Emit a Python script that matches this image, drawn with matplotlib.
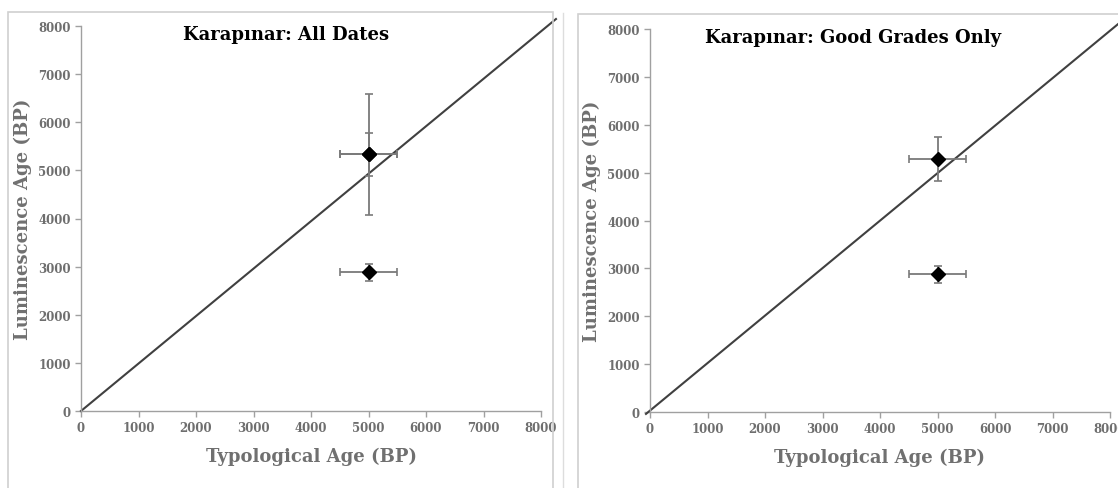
import matplotlib
matplotlib.use("Agg")
import matplotlib.pyplot as plt
from matplotlib.patches import Rectangle

# Data
titles = ["Karapınar: All Dates", "Karapınar: Good Grades Only"]
x_label = "Typological Age (BP)"
y_label = "Luminescence Age (BP)"
ticks = [0, 1000, 2000, 3000, 4000, 5000, 6000, 7000, 8000]

# Left panel: all dates
all_x = [5000, 5000, 5000]
all_y = [5330, 5330, 2880]
all_xerr = [500, 500, 500]
all_yerr = [1260, 450, 180]

# Right panel: good grades only
good_x = [5000, 5000]
good_y = [5290, 2880]
good_xerr = [500, 500]
good_yerr = [460, 180]

# 1:1 reference line (extends slightly past the axes)
line_left_x = [0, 8260]
line_left_y = [0, 8145]
line_right_x = [-70, 8500]
line_right_y = [-40, 8460]

GRAY = "#7a7a7a"
SERIF = ["DejaVu Serif"]

fig = plt.figure(figsize=(11.18, 4.89), dpi=100)

# decorative frames
fig.add_artist(Rectangle((8/1118, -0.1), (553-8)/1118, 1.1 - 13/489, transform=fig.transFigure,
                         fill=False, edgecolor="#d0d0d0", lw=1.2))
fig.add_artist(Rectangle((578/1118, -0.1), 0.6, 1.1 - 15/489, transform=fig.transFigure,
                         fill=False, edgecolor="#d0d0d0", lw=1.2))
fig.add_artist(plt.Line2D([563/1118, 563/1118], [0, 1 - 14/489], transform=fig.transFigure,
                          color="#dddddd", lw=1))

axL = fig.add_axes([81/1118, 1 - 412/489, 460/1118, (412-27)/489])
axR = fig.add_axes([650/1118, 1 - 413/489, 460/1118, (413-30)/489])

panels = [
    (axL, all_x, all_y, all_xerr, all_yerr, line_left_x, line_left_y, titles[0], (0.446, 0.979)),
    (axR, good_x, good_y, good_xerr, good_yerr, line_right_x, line_right_y, titles[1], (0.441, 0.979)),
]

for ax, xs, ys, xe, ye, lx, ly, title, tpos in panels:
    ax.plot(lx, ly, color="#404040", lw=1.5, clip_on=False, zorder=2)
    ax.errorbar(xs, ys, xerr=xe, yerr=ye, fmt="D", color="black", ms=7,
                ecolor=GRAY, elinewidth=1.3, capsize=3, capthick=1.2, zorder=3,
                markeredgecolor="black")
    ax.set_xlim(0, 8000)
    ax.set_ylim(0, 8000)
    ax.set_xticks(ticks)
    ax.set_yticks(ticks)
    for s in ["top", "right"]:
        ax.spines[s].set_visible(False)
    for s in ["left", "bottom"]:
        ax.spines[s].set_color("#a0a0a0")
        ax.spines[s].set_linewidth(1.0)
    ax.tick_params(axis="both", colors="#a0a0a0", length=4, width=1, labelcolor="#6e6e6e",
                   labelsize=8.5)
    for lab in ax.get_xticklabels() + ax.get_yticklabels():
        lab.set_fontweight("bold")
        lab.set_family(SERIF)
    ax.set_xlabel(x_label, fontsize=13, fontweight="bold", color="#707070",
                  family=SERIF, labelpad=9)
    ax.set_ylabel(y_label, fontsize=13, fontweight="bold", color="#707070",
                  family=SERIF, labelpad=4)
    ax.text(tpos[0], tpos[1], title, transform=ax.transAxes, ha="center", va="center",
            fontsize=13, fontweight="bold", color="black", family=SERIF)
    ax.patch.set_alpha(0)

fig.savefig("out.png", dpi=100)
